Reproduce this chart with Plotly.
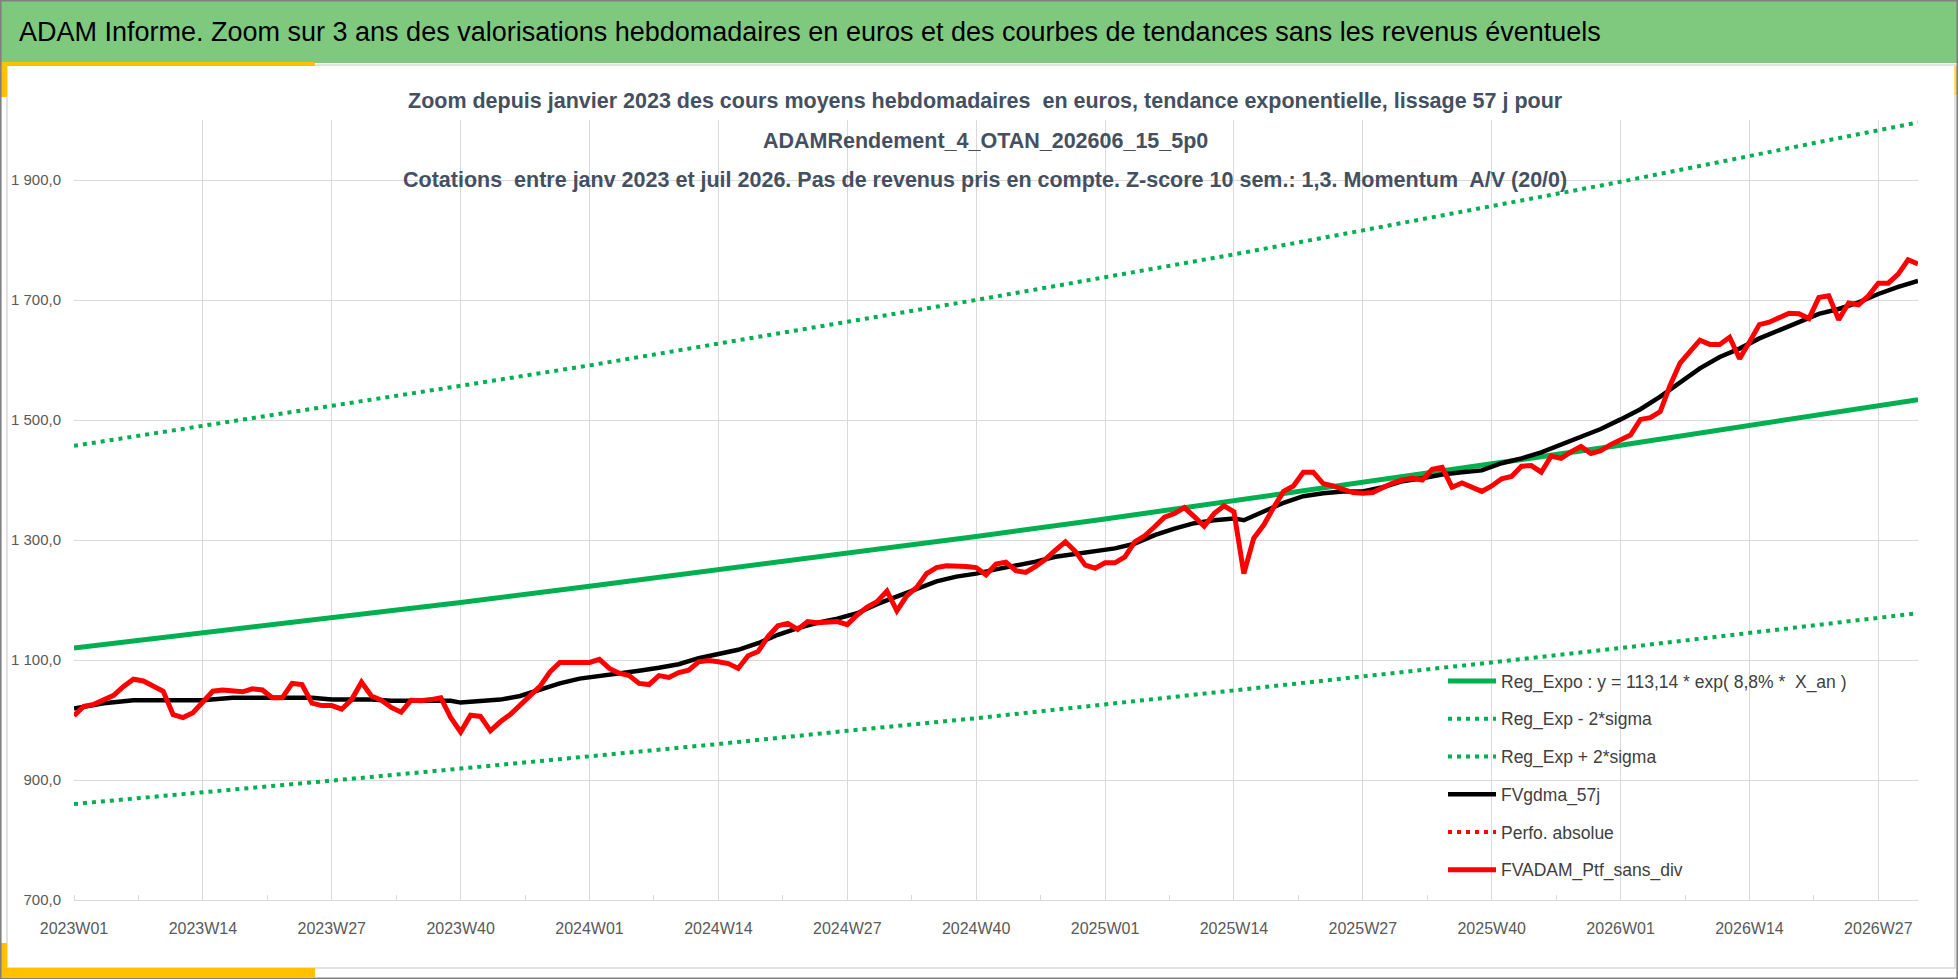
import plotly.graph_objects as go

# semaines (index 0 = 2023W01)
tick_weeks = [0, 13, 26, 39, 52, 65, 78, 91, 104, 117, 130, 143, 156, 169, 182]
tick_labels = ["2023W01", "2023W14", "2023W27", "2023W40", "2024W01", "2024W14", "2024W27",
               "2024W40", "2025W01", "2025W14", "2025W27", "2025W40", "2026W01", "2026W14",
               "2026W27"]

ptf_sans_div = [
    1007, 1023, 1026, 1034, 1041, 1056, 1068, 1065, 1057, 1048, 1009, 1004, 1012, 1030,
    1048, 1050, 1048, 1047, 1052, 1050, 1037, 1037, 1061, 1059, 1028, 1024, 1024, 1018,
    1034, 1063, 1040, 1033, 1021, 1013, 1033, 1032, 1034, 1037, 1004, 980, 1008, 1006,
    982, 997, 1009, 1024, 1040, 1056, 1080, 1096, 1096, 1096, 1096, 1101, 1086, 1078,
    1074, 1061, 1059, 1074, 1071, 1079, 1083, 1097, 1099, 1097, 1094, 1086, 1107, 1114,
    1139, 1157, 1161, 1151, 1164, 1162, 1164, 1164, 1159, 1175, 1188, 1197, 1215, 1182,
    1207, 1221, 1244, 1254, 1257, 1257, 1256, 1254, 1242, 1260, 1263, 1249, 1246, 1256,
    1268, 1283, 1297, 1281, 1258, 1253, 1262, 1262, 1272, 1297, 1307, 1322, 1338, 1344,
    1354, 1339, 1323, 1344, 1357, 1347, 1244, 1303, 1325, 1354, 1381, 1390, 1413, 1413,
    1394, 1390, 1384, 1379, 1378, 1379, 1387, 1395, 1400, 1403, 1400, 1418, 1421, 1388,
    1395, 1388, 1381, 1390, 1402, 1406, 1423, 1424, 1413, 1440, 1436, 1447, 1456, 1444,
    1449, 1459, 1467, 1475, 1501, 1504, 1514, 1558, 1595, 1615, 1633, 1626, 1626, 1638,
    1602, 1630, 1659, 1663, 1671, 1678, 1677, 1669, 1704, 1707, 1667, 1695, 1692, 1707,
    1728, 1728, 1743, 1767, 1760,
]

gdma_weeks = [0, 3, 6, 10, 13, 16, 20, 24, 26, 30, 32, 36, 38, 39, 41, 43, 45, 47, 49, 51,
              53, 55, 57, 59, 61, 63, 65, 67, 69, 71, 73, 75, 77, 79, 81, 83, 85, 87, 89, 91,
              93, 95, 97, 99, 101, 103, 105, 107, 109, 111, 113, 115, 117, 118, 119, 120, 122,
              124, 126, 128, 130, 132, 134, 136, 138, 140, 142, 144, 146, 148, 150, 152, 154,
              156, 158, 160, 162, 164, 166, 168, 170, 172, 174, 176, 178, 180, 182, 184, 186]
gdma_57j = [1019, 1028, 1033, 1033, 1033, 1037, 1037, 1037, 1034, 1034, 1032, 1032, 1032, 1029,
            1032, 1034, 1040, 1051, 1061, 1069, 1073, 1078, 1082, 1087, 1093, 1103, 1110, 1117,
            1128, 1142, 1153, 1162, 1169, 1178, 1193, 1206, 1219, 1231, 1239, 1244, 1251, 1257,
            1264, 1272, 1277, 1281, 1286, 1294, 1308, 1319, 1328, 1333, 1336, 1333, 1340, 1348,
            1362, 1373, 1378, 1381, 1381, 1388, 1398, 1403, 1409, 1413, 1416, 1428, 1436, 1446,
            1459, 1471, 1485, 1501, 1518, 1539, 1562, 1586, 1605, 1619, 1636, 1649, 1663, 1677,
            1685, 1696, 1710, 1722, 1732]

reg_weeks = [0, 13, 26, 39, 52, 65, 78, 91, 104, 117, 130, 143, 156, 169, 182, 186]
reg_expo = [1120, 1145, 1170, 1196, 1223, 1250, 1278, 1306, 1335, 1365, 1396, 1427, 1458,
            1491, 1524, 1534]
reg_moins_2sigma = [860, 879, 899, 919, 939, 960, 982, 1003, 1026, 1049, 1072, 1096, 1120,
                    1145, 1170, 1178]
reg_plus_2sigma = [1457, 1490, 1523, 1557, 1591, 1627, 1663, 1700, 1738, 1776, 1816, 1856,
                   1897, 1940, 1983, 1996]

W, H = 1958, 979
ML, MR, MT, MB = 74, 40, 120, 79
FONT = "Liberation Sans, Arial, sans-serif"


def fx(px):
    return (px - ML) / (W - ML - MR)


def fy(py):
    return (H - MB - py) / (H - MT - MB)


fig = go.Figure()
green = "#00B050"
fig.add_trace(go.Scatter(x=reg_weeks, y=reg_expo, mode="lines", name="Reg_Expo : y = 113,14 * exp( 8,8% *  X_an )",
                         line=dict(color=green, width=5), legendgroup="a"))
fig.add_trace(go.Scatter(x=reg_weeks, y=reg_moins_2sigma, mode="lines", name="Reg_Exp - 2*sigma",
                         line=dict(color=green, width=4, dash="4px,5px"), legendgroup="b"))
fig.add_trace(go.Scatter(x=reg_weeks, y=reg_plus_2sigma, mode="lines", name="Reg_Exp + 2*sigma",
                         line=dict(color=green, width=4, dash="4px,5px"), legendgroup="c"))
fig.add_trace(go.Scatter(x=gdma_weeks, y=gdma_57j, mode="lines", name="FVgdma_57j",
                         line=dict(color="black", width=4.5), legendgroup="d"))
fig.add_trace(go.Scatter(x=[None], y=[None], mode="lines", name="Perfo. absolue",
                         line=dict(color="#FF0000", width=4, dash="4px,5px"), legendgroup="e"))
fig.add_trace(go.Scatter(x=list(range(len(ptf_sans_div))), y=ptf_sans_div, mode="lines",
                         name="FVADAM_Ptf_sans_div", line=dict(color="#FF0000", width=5),
                         legendgroup="f"))

shapes = [
    # bandeau vert
    dict(type="rect", x0=fx(0), x1=fx(W), y0=fy(0), y1=fy(63), fillcolor="#7FC97F",
         line=dict(width=0)),
    # cadre interieur
    dict(type="rect", x0=fx(7), x1=fx(1955), y0=fy(65), y1=fy(968), fillcolor="rgba(0,0,0,0)",
         line=dict(color="#D9D9D9", width=1.5)),
    # accents jaunes
    dict(type="rect", x0=fx(0), x1=fx(315), y0=fy(62), y1=fy(66), fillcolor="#FFC000",
         line=dict(width=0)),
    dict(type="rect", x0=fx(0), x1=fx(7), y0=fy(62), y1=fy(97), fillcolor="#FFC000",
         line=dict(width=0)),
    dict(type="rect", x0=fx(0), x1=fx(315), y0=fy(968), y1=fy(977), fillcolor="#FFC000",
         line=dict(width=0)),
    dict(type="rect", x0=fx(0), x1=fx(7), y0=fy(943), y1=fy(977), fillcolor="#FFC000",
         line=dict(width=0)),
    dict(type="rect", x0=fx(1954), x1=fx(1957), y0=fy(66), y1=fy(95), fillcolor="#FFD966",
         line=dict(width=0)),
    # bordure exterieure
    dict(type="rect", x0=fx(0.8), x1=fx(W - 0.8), y0=fy(0.8), y1=fy(H - 0.8),
         fillcolor="rgba(0,0,0,0)", line=dict(color="#808080", width=1.6)),
]

sub_color = "#44505F"
annotations = [
    dict(text="ADAM Informe. Zoom sur 3 ans des valorisations hebdomadaires en euros et des courbes de tendances sans les revenus éventuels",
         x=fx(17), y=fy(32), xanchor="left", yanchor="middle", showarrow=False,
         font=dict(family=FONT, size=27, color="#000000")),
    dict(text="<b>Zoom depuis janvier 2023 des cours moyens hebdomadaires  en euros, tendance exponentielle, lissage 57 j pour</b>",
         x=fx(985), y=fy(101), xanchor="center", yanchor="middle", showarrow=False,
         font=dict(family=FONT, size=21.5, color=sub_color)),
    dict(text="<b>ADAMRendement_4_OTAN_202606_15_5p0</b>",
         x=fx(985), y=fy(141), xanchor="center", yanchor="middle", showarrow=False,
         font=dict(family=FONT, size=21.5, color=sub_color)),
    dict(text="<b>Cotations  entre janv 2023 et juil 2026. Pas de revenus pris en compte. Z-score 10 sem.: 1,3. Momentum  A/V (20/0)</b>",
         x=fx(985), y=fy(180), xanchor="center", yanchor="middle", showarrow=False,
         font=dict(family=FONT, size=21.5, color=sub_color)),
]
for a in annotations:
    a["xref"] = "paper"
    a["yref"] = "paper"
for s in shapes:
    s["xref"] = "paper"
    s["yref"] = "paper"
    s["layer"] = "below" if s.get("fillcolor") == "#7FC97F" else "above"

fig.update_layout(
    width=W, height=H,
    margin=dict(l=ML, r=MR, t=MT, b=MB),
    paper_bgcolor="white", plot_bgcolor="white",
    separators=", ",
    font=dict(family=FONT, color="#595959"),
    shapes=shapes, annotations=annotations,
    showlegend=True,
    legend=dict(x=fx(1443), y=fy(663), xanchor="left", yanchor="top",
                bgcolor="rgba(0,0,0,0)", font=dict(family=FONT, size=17.5, color="#404040"),
                tracegroupgap=12, itemwidth=48),
    xaxis=dict(range=[0, 186], tickmode="array", tickvals=tick_weeks, ticktext=tick_labels,
               showgrid=True, gridcolor="#D9D9D9", gridwidth=1.3, zeroline=False,
               showline=True, linecolor="#D9D9D9", linewidth=1.3, ticks="",
               ticklabelstandoff=14, tickfont=dict(size=16, color="#595959"),
               minor=dict(tickmode="linear", tick0=0, dtick=6.5, ticks="inside", ticklen=5,
                          tickcolor="#D9D9D9", showgrid=False)),
    yaxis=dict(range=[700, 2000], tick0=700, dtick=200, tickformat=",.1f",
               showgrid=True, gridcolor="#D9D9D9", gridwidth=1.3, zeroline=False,
               showline=False, ticks="", ticklabelstandoff=12,
               tickfont=dict(size=15, color="#595959")),
)

fig.write_html("out.html", config={"displayModeBar": False},
               post_script="document.body.style.margin='0';document.body.style.overflow='hidden';")
